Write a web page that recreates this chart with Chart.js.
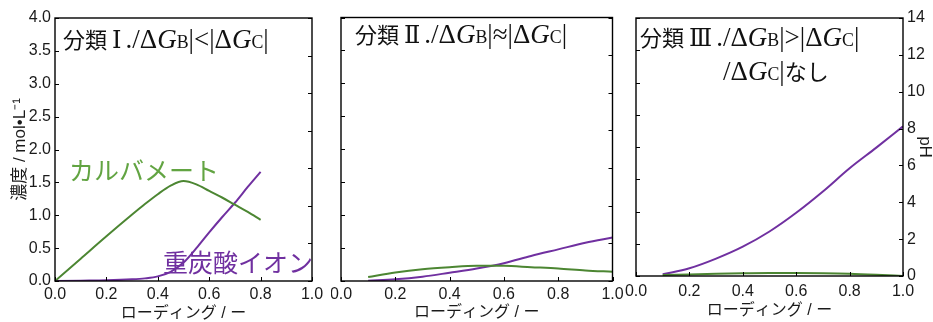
<!DOCTYPE html>
<html>
<head>
<meta charset="utf-8">
<script src="https://cdn.jsdelivr.net/npm/chart.js@4/dist/chart.umd.min.js"></script>
<style>
  html, body { margin: 0; padding: 0; background: #fff; }
  #page { position: relative; width: 933px; height: 322px; overflow: hidden; }
  .panel { position: absolute; top: 0; height: 322px; overflow: hidden; }
  .note { position: absolute; white-space: nowrap; line-height: 1; pointer-events: none; }
  .serif { font-family: "Noto Sans CJK JP", sans-serif; font-size: 22px; color: #111; }
  .serif .m { font-family: "Liberation Serif", serif; font-size: 27px; }
  .serif i { font-style: italic; }
  .serif sub { font-size: 0.66em; vertical-align: -0.02em; }
  .serif .n { font-family: "Liberation Serif", "DejaVu Serif", serif; font-size: 24px; margin: 0 4px 0 5px; }
  .label { font-family: "Noto Sans CJK JP", sans-serif; font-size: 25px; }
</style>
</head>
<body>
<div id="page">
  <div class="panel" style="left:0;width:331px"><canvas id="c1"></canvas></div>
  <div class="panel" style="left:331px;width:302px"><canvas id="c2"></canvas></div>
  <div class="panel" style="left:623px;width:310px"><canvas id="c3"></canvas></div>

  <div class="note serif" style="left:63px;top:26px">分類<span class="n">Ⅰ</span><span class="m">./Δ<i>G</i><sub>B</sub>|&lt;|Δ<i>G</i><sub>C</sub>|</span></div>
  <div class="note serif" style="left:355px;top:21px">分類<span class="n">Ⅱ</span><span class="m">./Δ<i>G</i><sub>B</sub>|≈|Δ<i>G</i><sub>C</sub>|</span></div>
  <div class="note serif" style="left:640px;top:24px">分類<span class="n">Ⅲ</span><span class="m">./Δ<i>G</i><sub>B</sub>|&gt;|Δ<i>G</i><sub>C</sub>|</span></div>
  <div class="note serif" style="left:723px;top:58px"><span class="m">/Δ<i>G</i><sub>C</sub>|</span>なし</div>
  <div class="note label" style="left:69px;top:157px;color:#62a442">カルバメート</div>
  <div class="note label" style="left:163px;top:249px;color:#7030a0">重炭酸イオン</div>
</div>
<script>
// --- data ---
let p1X = [0, 0.1, 0.2, 0.3, 0.35, 0.4, 0.45, 0.5, 0.55, 0.6, 0.65, 0.7, 0.75, 0.8];
let p1Carbamate = [0, 0.34, 0.68, 1.01, 1.17, 1.32, 1.45, 1.52, 1.47, 1.37, 1.27, 1.16, 1.05, 0.93];
let p1Bicarb = [0, 0.005, 0.01, 0.025, 0.04, 0.07, 0.14, 0.28, 0.5, 0.74, 0.97, 1.19, 1.43, 1.66];

let p2X = [0.1, 0.2, 0.3, 0.4, 0.5, 0.6, 0.7, 0.8, 0.9, 1.0];
let p2Carbamate = [0.06, 0.13, 0.18, 0.21, 0.23, 0.23, 0.21, 0.19, 0.16, 0.14];
let p2Bicarb = [0.005, 0.025, 0.065, 0.126, 0.19, 0.27, 0.38, 0.48, 0.58, 0.66];

let p3X = [0.1, 0.2, 0.3, 0.4, 0.5, 0.6, 0.7, 0.8, 0.9, 1.0];
let p3Carbamate = [0.015, 0.025, 0.035, 0.042, 0.047, 0.047, 0.044, 0.036, 0.02, 0.0];
let p3Bicarb = [0.026, 0.12, 0.27, 0.455, 0.69, 0.98, 1.31, 1.67, 1.99, 2.32];

let xRange = [0, 1];
let concRange = [0, 4];
let phRange = [0, 14];

const GREEN = '#4c8632';
const PURPLE = '#7030a0';

Chart.defaults.font.family = '"Liberation Sans", Arial, "Noto Sans CJK JP", sans-serif';
Chart.defaults.color = '#1a1a1a';

// border box + inward tick marks
const frame = {
    id: 'frame',
    afterDraw(chart) {
        const {ctx, chartArea: a} = chart;
        const len = 4;
        ctx.save();
        ctx.strokeStyle = '#000';
        ctx.lineWidth = 1;
        ctx.beginPath();
        let x = chart.scales.x;
        x.ticks.forEach(t => {
            let px = Math.round(x.getPixelForValue(t.value)) + 0.5;
            ctx.moveTo(px, a.bottom); ctx.lineTo(px, a.bottom - len);
        });
        let y = chart.scales.y;
        y.ticks.forEach(t => {
            let py = Math.round(y.getPixelForValue(t.value)) + 0.5;
            ctx.moveTo(a.left, py); ctx.lineTo(a.left + len, py);
        });
        let y2 = chart.scales.y2;
        y2.ticks.forEach(t => {
            let py = Math.round(y2.getPixelForValue(t.value)) + 0.5;
            ctx.moveTo(a.right, py); ctx.lineTo(a.right - len, py);
        });
        ctx.stroke();
        ctx.lineWidth = 1.4;
        ctx.strokeRect(a.left, a.top, a.right - a.left, a.bottom - a.top);
        ctx.restore();
    }
};

function pts(xs, ys) {
    return xs.map((v, i) => ({x: v, y: ys[i]}));
}

function makePanel(id, xs, carb, bic, cfg) {
    return new Chart(document.getElementById(id), {
        type: 'line',
        data: {
            datasets: [
                {data: pts(xs, carb), borderColor: GREEN, borderWidth: 2, pointRadius: 0, cubicInterpolationMode: 'monotone', fill: false},
                {data: pts(xs, bic), borderColor: PURPLE, borderWidth: 2, pointRadius: 0, cubicInterpolationMode: 'monotone', fill: false}
            ]
        },
        options: {
            responsive: true,
            maintainAspectRatio: false,
            devicePixelRatio: 1,
            animation: false,
            events: [],
            layout: {padding: {top: cfg.top, right: cfg.padRight, left: 0, bottom: 0}},
            plugins: {legend: {display: false}, tooltip: {enabled: false}},
            scales: {
                x: {
                    type: 'linear', min: xRange[0], max: xRange[1],
                    grid: {display: false, drawTicks: false},
                    border: {display: false},
                    ticks: {stepSize: 0.2, padding: cfg.xPad, font: {size: 16}, maxRotation: 0,
                            callback: v => v.toFixed(1)},
                    title: {display: true, text: 'ローディング / ー', font: {size: 16}, color: '#1a1a1a',
                            padding: {top: 0, bottom: cfg.xTitlePad}},
                    afterFit: s => { s.height = cfg.xHeight; s.paddingLeft = 0; s.paddingRight = 0; }
                },
                y: {
                    type: 'linear', position: 'left', min: concRange[0], max: concRange[1],
                    grid: {display: false, drawTicks: false},
                    border: {display: false},
                    ticks: {stepSize: 0.5, padding: 4, font: {size: 16}, display: cfg.leftLabels,
                            callback: v => v.toFixed(1)},
                    title: {display: cfg.leftLabels, text: '濃度 / mol•L⁻¹', font: {size: 17}, color: '#1a1a1a',
                            padding: {top: 10, bottom: 0}},
                    afterFit: s => { s.width = cfg.yWidth; s.paddingTop = 0; s.paddingBottom = 0; }
                },
                y2: {
                    type: 'linear', position: 'right', min: phRange[0], max: phRange[1],
                    grid: {display: false, drawTicks: false},
                    border: {display: false},
                    ticks: {stepSize: 2, padding: 4, font: {size: 16}, display: cfg.rightLabels},
                    title: {display: cfg.rightLabels, text: 'pH', font: {size: 17, lineHeight: 1}, color: '#1a1a1a',
                            padding: {top: 0, bottom: 0}},
                    afterFit: s => { s.width = cfg.y2Width; s.paddingTop = 0; s.paddingBottom = 0; }
                }
            }
        },
        plugins: [frame]
    });
}

makePanel('c1', p1X, p1Carbamate, p1Bicarb,
    {top: 18, padRight: 19, yWidth: 55, y2Width: 0, xHeight: 41, xPad: 4, xTitlePad: -1, leftLabels: true, rightLabels: false});
makePanel('c2', p2X, p2Carbamate, p2Bicarb,
    {top: 17.5, padRight: 20.5, yWidth: 10, y2Width: 0, xHeight: 41, xPad: 4, xTitlePad: 0, leftLabels: false, rightLabels: false});
makePanel('c3', p3X, p3Carbamate, p3Bicarb,
    {top: 18, padRight: 0, yWidth: 13, y2Width: 30, xHeight: 46, xPad: 5.5, xTitlePad: 2, leftLabels: false, rightLabels: true});
</script>
</body>
</html>
